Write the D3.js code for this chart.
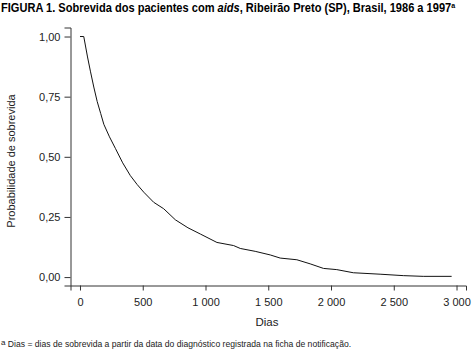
<!DOCTYPE html>
<html><head><meta charset="utf-8">
<script src="https://cdn.jsdelivr.net/npm/d3@7"></script>
<style>
body{margin:0;background:#fff;}
svg{display:block;font-family:"Liberation Sans",Arial,sans-serif;}
</style></head>
<body><svg id="c" width="473" height="354"></svg>
<script>
// Data: Kaplan-Meier survival (days, probability)
const days = [0, 30, 60, 83, 110, 137, 165, 190, 235, 282, 340, 401, 455, 508, 587, 667, 760, 860, 959, 1091, 1224, 1277, 1396, 1516, 1595, 1728, 1834, 1940, 2046, 2178, 2391, 2576, 2735, 2961];
const survival = [1.0, 1.0, 0.915, 0.856, 0.790, 0.730, 0.680, 0.635, 0.583, 0.535, 0.475, 0.422, 0.385, 0.353, 0.311, 0.284, 0.238, 0.205, 0.179, 0.144, 0.131, 0.119, 0.107, 0.092, 0.079, 0.072, 0.055, 0.036, 0.031, 0.018, 0.012, 0.006, 0.003, 0.003];
const xTicks = [0, 500, 1000, 1500, 2000, 2500, 3000];
const yTicks = [0, 0.25, 0.5, 0.75, 1.0];

const svg = d3.select("#c");
const loc = d3.formatLocale({decimal: ",", thousands: "\u00a0", grouping: [3], currency: ["", ""]});
const fx = loc.format(",d"), fy = loc.format(".2f");

const x = d3.scaleLinear().domain([-75.6, 3075.5]).range([70.5, 466]);
const y = d3.scaleLinear().domain([-0.035, 1.0375]).range([285.5, 27.5]);

// Title (condensed to fit like the reference)
const tg = svg.append("g");
const t = tg.append("text").attr("x", 0).attr("y", 12).attr("font-size", 12.5).attr("font-weight", "bold").attr("fill", "#000");
t.append("tspan").text("FIGURA 1. Sobrevida dos pacientes com ");
t.append("tspan").attr("font-style", "italic").text("aids");
t.append("tspan").text(", Ribeirão Preto (SP), Brasil, 1986 a 1997");
t.append("tspan").attr("font-size", 8).attr("dy", -4).text("a");
const tw = t.node().getBBox().width;
tg.attr("transform", `translate(1,0) scale(${455 / tw},1)`);

// Axes
const gx = svg.append("g").attr("transform", "translate(0,285.5)")
  .call(d3.axisBottom(x).tickValues(xTicks).tickFormat(fx).tickSizeOuter(0).tickSize(5).tickPadding(8));
const gy = svg.append("g").attr("transform", "translate(70.5,0)")
  .call(d3.axisLeft(y).tickValues(yTicks).tickFormat(fy).tickSizeOuter(0).tickSize(6).tickPadding(4));
[gx, gy].forEach(g => {
  g.selectAll("path,line").attr("stroke", "#333");
  g.selectAll("text").attr("font-size", 11).attr("fill", "#222").attr("font-family", "Liberation Sans, Arial, sans-serif");
});

// Curve
const line = d3.line().x((d, i) => x(days[i])).y(d => y(d));
svg.append("path").datum(survival).attr("d", line).attr("fill", "none").attr("stroke", "#111").attr("stroke-width", 1);

// Axis titles
svg.append("text").attr("x", 267).attr("y", 326).attr("text-anchor", "middle").attr("font-size", 11.5).attr("fill", "#222").text("Dias");
svg.append("text").attr("transform", "translate(15,161) rotate(-90)").attr("text-anchor", "middle").attr("font-size", 11).attr("fill", "#222").text("Probabilidade de sobrevida");

// Footnote
const f = svg.append("text").attr("x", 1).attr("y", 347).attr("font-size", 8.6).attr("fill", "#222");
f.append("tspan").attr("font-size", 8).attr("dy", -2).text("a");
f.append("tspan").attr("dy", 2).text(" Dias = dias de sobrevida a partir da data do diagnóstico registrada na ficha de notificação.");
</script></body></html>
